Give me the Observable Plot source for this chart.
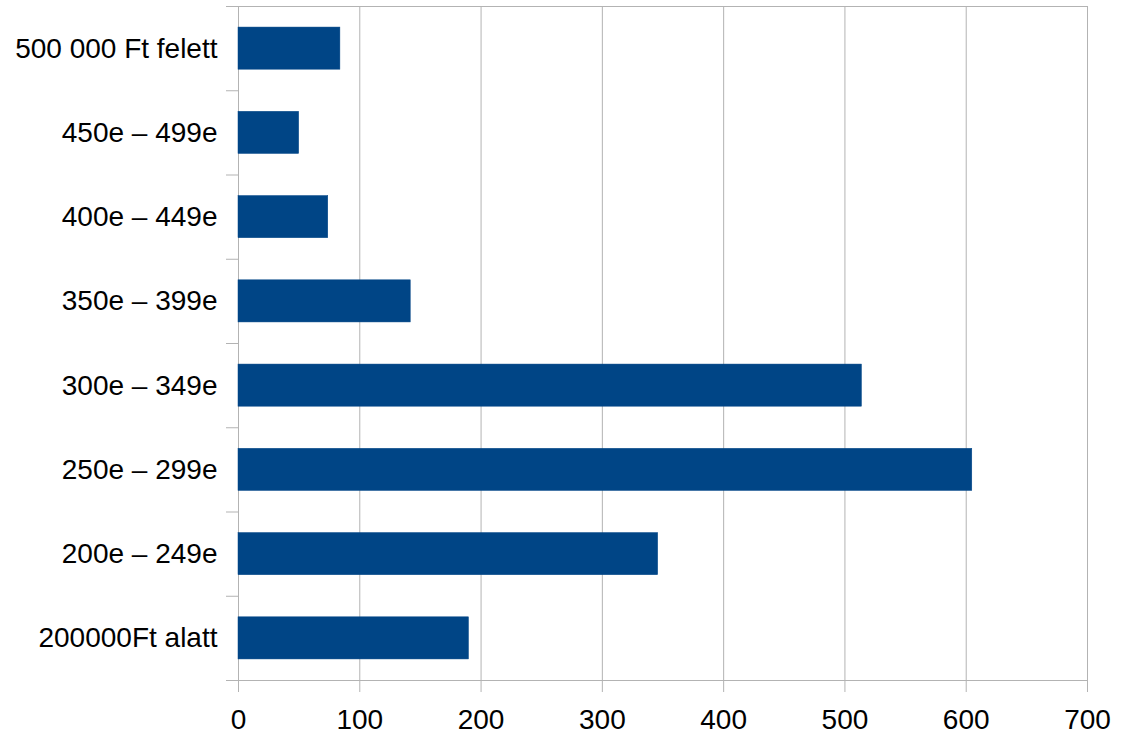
<!DOCTYPE html>
<html>
<head>
<meta charset="utf-8">
<script src="https://cdn.jsdelivr.net/npm/d3@7"></script>
<script src="https://cdn.jsdelivr.net/npm/@observablehq/plot@0.6"></script>
<style>
  html, body { margin: 0; padding: 0; background: #fff; }
  #chart { width: 1124px; height: 742px; }
</style>
</head>
<body>
<div id="chart"></div>
<script>
// Categories listed bottom to top
const categories = [
  "200000Ft alatt",
  "200e – 249e",
  "250e – 299e",
  "300e – 349e",
  "350e – 399e",
  "400e – 449e",
  "450e – 499e",
  "500 000 Ft felett"
];
const values = [190, 346, 605, 514, 142, 74, 50, 84];
const xTicks = [0, 100, 200, 300, 400, 500, 600, 700];

const data = categories.map((c, i) => ({category: c, value: values[i], lo: i + 0.25, hi: i + 0.75}));
const boundaries = d3.range(0, categories.length + 1);
const centers = categories.map((c, i) => i + 0.5);

const gridColor = "#b3b3b3";
const barColor = "#004586";

const chart = Plot.plot({
  width: 1124,
  height: 742,
  marginLeft: 238,
  marginRight: 37,
  marginTop: 6,
  marginBottom: 62,
  style: {fontFamily: "'Liberation Sans', Arial, sans-serif", fontSize: "28px", color: "#000", background: "#fff"},
  x: {domain: [0, 700]},
  y: {domain: [0, categories.length]},
  marks: [
    Plot.gridX(xTicks, {stroke: gridColor, strokeOpacity: 1, strokeWidth: 1}),
    Plot.ruleY([0, categories.length], {stroke: gridColor, strokeWidth: 1}),
    Plot.rect(data, {x1: 0, x2: "value", y1: "lo", y2: "hi", fill: barColor, stroke: barColor, strokeWidth: 0.5}),
    Plot.axisY(boundaries, {tickSize: 12, stroke: gridColor, tickFormat: () => "", label: null}),
    Plot.axisY(centers, {tickSize: 0, tickPadding: 21, tickFormat: d => categories[Math.floor(d)], fill: "#000", fontSize: 28, label: null}),
    Plot.axisX(xTicks, {tickSize: 12, tickPadding: 17, stroke: gridColor, fill: "#000", fontSize: 28, label: null})
  ]
});
document.getElementById("chart").appendChild(chart);
</script>
</body>
</html>
